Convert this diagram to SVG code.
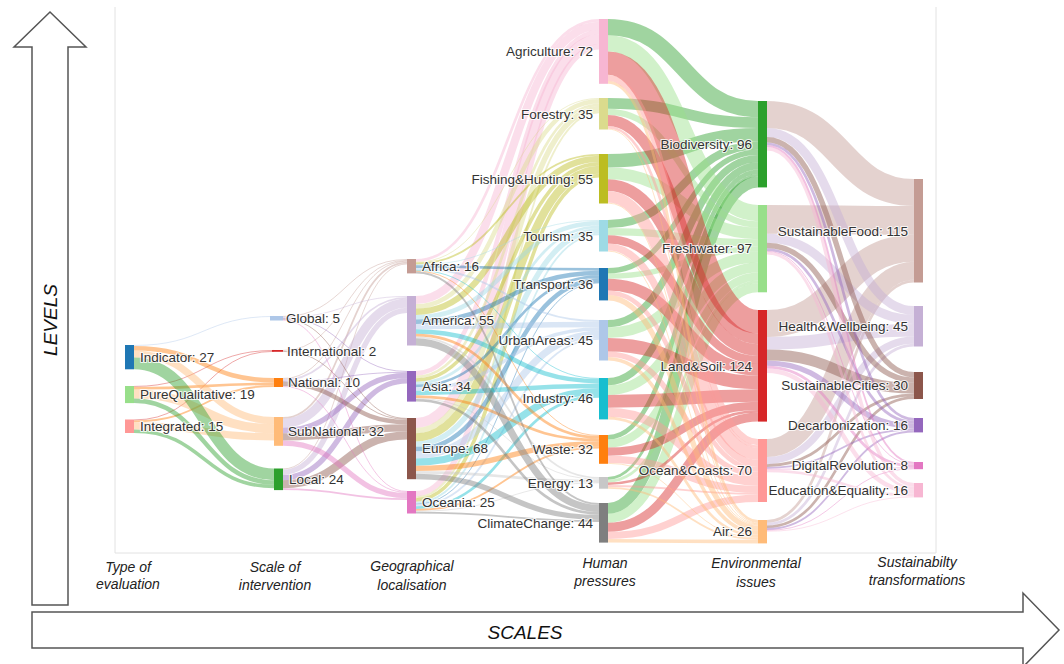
<svg xmlns="http://www.w3.org/2000/svg" width="1064" height="664" viewBox="0 0 1064 664">
<style>
.lk path{fill:none;stroke-opacity:.45}
.cB{stroke:#1f77b4}.cLB{stroke:#aec7e8}.cO{stroke:#ff7f0e}.cLO{stroke:#ffbb78}.cG{stroke:#2ca02c}.cLG{stroke:#98df8a}
.cR{stroke:#d62728}.cP{stroke:#ff9896}.cPu{stroke:#9467bd}.cLPu{stroke:#c5b0d5}.cBr{stroke:#8c564b}.cLBr{stroke:#c49c94}
.cM{stroke:#e377c2}.cLM{stroke:#f7b6d2}.cGr{stroke:#7f7f7f}.cLGr{stroke:#c7c7c7}.cOl{stroke:#bcbd22}.cLOl{stroke:#dbdb8d}
.cCy{stroke:#17becf}.cLCy{stroke:#9edae5}
.lbl{font-family:"Liberation Sans",Arial,sans-serif;font-size:13.5px;fill:#333;stroke:#fff;stroke-width:2.2px;stroke-opacity:.8;paint-order:stroke;stroke-linejoin:round}
.e{text-anchor:end}
.ax{font-family:"Liberation Sans",Arial,sans-serif;font-style:italic;font-size:14px;fill:#222;text-anchor:middle}
.big{font-family:"Liberation Sans",Arial,sans-serif;font-style:italic;font-size:19px;fill:#111;text-anchor:middle}
.arrow{fill:#fff;stroke:#555;stroke-width:1.5}
.frame{stroke:#e2e2e2;stroke-width:1;fill:none}
</style>
<rect width="1064" height="664" fill="#fff"/>
<g id="axes">
<polyline class="frame" points="115,7 115,553 936,553 936,7"/>
<polygon class="arrow" points="32,605 32,47 14,47 50,12 86,47 68,47 68,605"/>
<polygon class="arrow" points="32,612 1023,612 1023,593 1059,630 1023,667 1023,648 32,648"/>
<text class="big" transform="translate(57,320) rotate(-90)">LEVELS</text>
<text class="big" x="525" y="639">SCALES</text>
<text class="ax" x="128" y="572">Type of</text><text class="ax" x="128" y="589">evaluation</text>
<text class="ax" x="275" y="572">Scale of</text><text class="ax" x="275" y="590">intervention</text>
<text class="ax" x="412" y="571">Geographical</text><text class="ax" x="412" y="590">localisation</text>
<text class="ax" x="605" y="568">Human</text><text class="ax" x="605" y="586">pressures</text>
<text class="ax" x="756" y="568">Environmental</text><text class="ax" x="756" y="587">issues</text>
<text class="ax" x="917" y="567">Sustainabilty</text><text class="ax" x="917" y="585">transformations</text>
</g>
<g id="connectors" class="lk">
<!-- col1 -> col2 -->
<g class="cLB"><path d="M134,345.45C204,345.45 204,316.45 274,316.45" stroke-width="0.9"/></g>
<g class="cR">
<path d="M134,386.45C204,386.45 204,350.45 274,350.45" stroke-width="0.9"/>
<path d="M134,419.95C204,419.95 204,351.35 274,351.35" stroke-width="0.9"/>
</g>
<g class="cO">
<path d="M134,348.15C204,348.15 204,380.25 274,380.25" stroke-width="4.5"/>
<path d="M134,388.25C204,388.25 204,383.85 274,383.85" stroke-width="2.7"/>
<path d="M134,421.3C204,421.3 204,386.1 274,386.1" stroke-width="1.8"/>
</g>
<g class="cLO">
<path d="M134,354C204,354 204,420.6 274,420.6" stroke-width="7.2"/>
<path d="M134,394.1C204,394.1 204,428.7 274,428.7" stroke-width="9"/>
<path d="M134,425.8C204,425.8 204,436.8 274,436.8" stroke-width="7.2"/>
</g>
<g class="cG">
<path d="M134,363.45C204,363.45 204,474.35 274,474.35" stroke-width="11.7"/>
<path d="M134,400.85C204,400.85 204,482.45 274,482.45" stroke-width="4.5"/>
<path d="M134,431.2C204,431.2 204,486.5 274,486.5" stroke-width="3.6"/>
</g>
<!-- col2 -> col3 -->
<g class="cLBr">
<path d="M283,316.45C345,316.45 345,259.45 407,259.45" stroke-width="0.9"/>
<path d="M283,350.45C345,350.45 345,260.35 407,260.35" stroke-width="0.9"/>
<path d="M283,378.45C345,378.45 345,261.25 407,261.25" stroke-width="0.9"/>
<path d="M283,417.9C345,417.9 345,262.6 407,262.6" stroke-width="1.8"/>
<path d="M283,468.95C345,468.95 345,263.95 407,263.95" stroke-width="0.9"/>
</g>
<g class="cLPu">
<path d="M283,317.35C345,317.35 345,296.45 407,296.45" stroke-width="0.9"/>
<path d="M283,379.8C345,379.8 345,297.8 407,297.8" stroke-width="1.8"/>
<path d="M283,423.3C345,423.3 345,303.2 407,303.2" stroke-width="9"/>
<path d="M283,472.1C345,472.1 345,310.4 407,310.4" stroke-width="5.4"/>
</g>
<g class="cPu">
<path d="M283,318.25C345,318.25 345,371.45 407,371.45" stroke-width="0.9"/>
<path d="M283,381.15C345,381.15 345,372.35 407,372.35" stroke-width="0.9"/>
<path d="M283,430.5C345,430.5 345,375.5 407,375.5" stroke-width="5.4"/>
<path d="M283,477.5C345,477.5 345,380.9 407,380.9" stroke-width="5.4"/>
</g>
<g class="cBr">
<path d="M283,319.15C345,319.15 345,418.45 407,418.45" stroke-width="0.9"/>
<path d="M283,351.35C345,351.35 345,419.35 407,419.35" stroke-width="0.9"/>
<path d="M283,383.85C345,383.85 345,422.05 407,422.05" stroke-width="4.5"/>
<path d="M283,436.8C345,436.8 345,427.9 407,427.9" stroke-width="7.2"/>
<path d="M283,484.25C345,484.25 345,435.55 407,435.55" stroke-width="8.1"/>
</g>
<g class="cM">
<path d="M283,320.05C345,320.05 345,491.45 407,491.45" stroke-width="0.9"/>
<path d="M283,386.55C345,386.55 345,492.35 407,492.35" stroke-width="0.9"/>
<path d="M283,443.1C345,443.1 345,495.5 407,495.5" stroke-width="5.4"/>
<path d="M283,489.2C345,489.2 345,499.1 407,499.1" stroke-width="1.8"/>
</g>
<!-- col3 -> col4 -->
<g class="cLM">
<path d="M416,260.35C507.5,260.35 507.5,20.35 599,20.35" stroke-width="2.7"/>
<path d="M416,300.05C507.5,300.05 507.5,25.75 599,25.75" stroke-width="8.1"/>
<path d="M416,373.25C507.5,373.25 507.5,32.05 599,32.05" stroke-width="4.5"/>
<path d="M416,422.95C507.5,422.95 507.5,39.25 599,39.25" stroke-width="9.9"/>
<path d="M416,493.7C507.5,493.7 507.5,46.9 599,46.9" stroke-width="5.4"/>
</g>
<g class="cLOl">
<path d="M416,262.15C507.5,262.15 507.5,98.45 599,98.45" stroke-width="0.9"/>
<path d="M416,306.35C507.5,306.35 507.5,101.15 599,101.15" stroke-width="4.5"/>
<path d="M416,376.85C507.5,376.85 507.5,104.75 599,104.75" stroke-width="2.7"/>
<path d="M416,430.6C507.5,430.6 507.5,108.8 599,108.8" stroke-width="5.4"/>
<path d="M416,497.3C507.5,497.3 507.5,112.4 599,112.4" stroke-width="1.8"/>
</g>
<g class="cOl">
<path d="M416,263.5C507.5,263.5 507.5,154.9 599,154.9" stroke-width="1.8"/>
<path d="M416,311.75C507.5,311.75 507.5,158.95 599,158.95" stroke-width="6.3"/>
<path d="M416,380C507.5,380 507.5,163.9 599,163.9" stroke-width="3.6"/>
<path d="M416,437.35C507.5,437.35 507.5,169.75 599,169.75" stroke-width="8.1"/>
<path d="M416,500C507.5,500 507.5,175.6 599,175.6" stroke-width="3.6"/>
</g>
<g class="cLCy">
<path d="M416,264.85C507.5,264.85 507.5,220.45 599,220.45" stroke-width="0.9"/>
<path d="M416,317.15C507.5,317.15 507.5,223.15 599,223.15" stroke-width="4.5"/>
<path d="M416,383.15C507.5,383.15 507.5,226.75 599,226.75" stroke-width="2.7"/>
<path d="M416,444.1C507.5,444.1 507.5,230.8 599,230.8" stroke-width="5.4"/>
<path d="M416,502.7C507.5,502.7 507.5,234.4 599,234.4" stroke-width="1.8"/>
</g>
<g class="cB">
<path d="M416,266.65C507.5,266.65 507.5,269.35 599,269.35" stroke-width="2.7"/>
<path d="M416,321.65C507.5,321.65 507.5,272.95 599,272.95" stroke-width="4.5"/>
<path d="M416,385.85C507.5,385.85 507.5,276.55 599,276.55" stroke-width="2.7"/>
<path d="M416,449.05C507.5,449.05 507.5,280.15 599,280.15" stroke-width="4.5"/>
<path d="M416,504.05C507.5,504.05 507.5,282.85 599,282.85" stroke-width="0.9"/>
</g>
<g class="cLB">
<path d="M416,268.9C507.5,268.9 507.5,320.9 599,320.9" stroke-width="1.8"/>
<path d="M416,326.6C507.5,326.6 507.5,324.5 599,324.5" stroke-width="5.4"/>
<path d="M416,389C507.5,389 507.5,329 599,329" stroke-width="3.6"/>
<path d="M416,454.9C507.5,454.9 507.5,334.4 599,334.4" stroke-width="7.2"/>
<path d="M416,505.4C507.5,505.4 507.5,338.9 599,338.9" stroke-width="1.8"/>
</g>
<g class="cCy">
<path d="M416,270.25C507.5,270.25 507.5,378.45 599,378.45" stroke-width="0.9"/>
<path d="M416,331.55C507.5,331.55 507.5,381.15 599,381.15" stroke-width="4.5"/>
<path d="M416,393.05C507.5,393.05 507.5,385.65 599,385.65" stroke-width="4.5"/>
<path d="M416,462.1C507.5,462.1 507.5,391.5 599,391.5" stroke-width="7.2"/>
<path d="M416,507.65C507.5,507.65 507.5,396.45 599,396.45" stroke-width="2.7"/>
</g>
<g class="cO">
<path d="M416,271.15C507.5,271.15 507.5,435.45 599,435.45" stroke-width="0.9"/>
<path d="M416,335.15C507.5,335.15 507.5,437.25 599,437.25" stroke-width="2.7"/>
<path d="M416,396.65C507.5,396.65 507.5,439.95 599,439.95" stroke-width="2.7"/>
<path d="M416,468.4C507.5,468.4 507.5,444 599,444" stroke-width="5.4"/>
<path d="M416,509.9C507.5,509.9 507.5,447.6 599,447.6" stroke-width="1.8"/>
</g>
<g class="cLGr">
<path d="M416,337.4C507.5,337.4 507.5,477.9 599,477.9" stroke-width="1.8"/>
<path d="M416,398.45C507.5,398.45 507.5,479.25 599,479.25" stroke-width="0.9"/>
<path d="M416,472.45C507.5,472.45 507.5,481.05 599,481.05" stroke-width="2.7"/>
<path d="M416,511.25C507.5,511.25 507.5,482.85 599,482.85" stroke-width="0.9"/>
</g>
<g class="cGr">
<path d="M416,272.5C507.5,272.5 507.5,503.9 599,503.9" stroke-width="1.8"/>
<path d="M416,341.9C507.5,341.9 507.5,508.4 599,508.4" stroke-width="7.2"/>
<path d="M416,400.25C507.5,400.25 507.5,513.35 599,513.35" stroke-width="2.7"/>
<path d="M416,476.5C507.5,476.5 507.5,517.4 599,517.4" stroke-width="5.4"/>
<path d="M416,512.6C507.5,512.6 507.5,521 599,521" stroke-width="1.8"/>
</g>
<!-- col4 -> col5 -->
<g class="cG">
<path d="M608,27.1C683,27.1 683,109.1 758,109.1" stroke-width="16.2"/>
<path d="M608,103.4C683,103.4 683,122.6 758,122.6" stroke-width="10.8"/>
<path d="M608,160.75C683,160.75 683,134.75 758,134.75" stroke-width="13.5"/>
<path d="M608,224.05C683,224.05 683,145.55 758,145.55" stroke-width="8.1"/>
<path d="M608,270.7C683,270.7 683,152.3 758,152.3" stroke-width="5.4"/>
<path d="M608,323.6C683,323.6 683,158.6 758,158.6" stroke-width="7.2"/>
<path d="M608,381.6C683,381.6 683,165.8 758,165.8" stroke-width="7.2"/>
<path d="M608,437.25C683,437.25 683,171.65 758,171.65" stroke-width="4.5"/>
<path d="M608,478.35C683,478.35 683,175.25 758,175.25" stroke-width="2.7"/>
<path d="M608,508.4C683,508.4 683,182 758,182" stroke-width="10.8"/>
</g>
<g class="cLG">
<path d="M608,43.3C683,43.3 683,213.1 758,213.1" stroke-width="16.2"/>
<path d="M608,111.95C683,111.95 683,224.35 758,224.35" stroke-width="6.3"/>
<path d="M608,173.35C683,173.35 683,233.35 758,233.35" stroke-width="11.7"/>
<path d="M608,231.7C683,231.7 683,242.8 758,242.8" stroke-width="7.2"/>
<path d="M608,276.1C683,276.1 683,249.1 758,249.1" stroke-width="5.4"/>
<path d="M608,332.6C683,332.6 683,257.2 758,257.2" stroke-width="10.8"/>
<path d="M608,390.15C683,390.15 683,267.55 758,267.55" stroke-width="9.9"/>
<path d="M608,443.55C683,443.55 683,276.55 758,276.55" stroke-width="8.1"/>
<path d="M608,481.05C683,481.05 683,281.95 758,281.95" stroke-width="2.7"/>
<path d="M608,518.3C683,518.3 683,287.8 758,287.8" stroke-width="9"/>
</g>
<g class="cR">
<path d="M608,63.1C683,63.1 683,321.7 758,321.7" stroke-width="23.4"/>
<path d="M608,120.5C683,120.5 683,338.8 758,338.8" stroke-width="10.8"/>
<path d="M608,185.05C683,185.05 683,350.05 758,350.05" stroke-width="11.7"/>
<path d="M608,239.35C683,239.35 683,359.95 758,359.95" stroke-width="8.1"/>
<path d="M608,284.65C683,284.65 683,369.85 758,369.85" stroke-width="11.7"/>
<path d="M608,344.75C683,344.75 683,382.45 758,382.45" stroke-width="13.5"/>
<path d="M608,401.4C683,401.4 683,395.5 758,395.5" stroke-width="12.6"/>
<path d="M608,451.65C683,451.65 683,405.85 758,405.85" stroke-width="8.1"/>
<path d="M608,483.75C683,483.75 683,411.25 758,411.25" stroke-width="2.7"/>
<path d="M608,527.3C683,527.3 683,417.1 758,417.1" stroke-width="9"/>
</g>
<g class="cP">
<path d="M608,77.95C683,77.95 683,442.15 758,442.15" stroke-width="6.3"/>
<path d="M608,127.25C683,127.25 683,446.65 758,446.65" stroke-width="2.7"/>
<path d="M608,196.75C683,196.75 683,453.85 758,453.85" stroke-width="11.7"/>
<path d="M608,247C683,247 683,463.3 758,463.3" stroke-width="7.2"/>
<path d="M608,292.75C683,292.75 683,469.15 758,469.15" stroke-width="4.5"/>
<path d="M608,354.2C683,354.2 683,474.1 758,474.1" stroke-width="5.4"/>
<path d="M608,412.2C683,412.2 683,481.3 758,481.3" stroke-width="9"/>
<path d="M608,459.3C683,459.3 683,489.4 758,489.4" stroke-width="7.2"/>
<path d="M608,486C683,486 683,493.9 758,493.9" stroke-width="1.8"/>
<path d="M608,535.4C683,535.4 683,498.4 758,498.4" stroke-width="7.2"/>
</g>
<g class="cLO">
<path d="M608,82.45C683,82.45 683,521.35 758,521.35" stroke-width="2.7"/>
<path d="M608,129.05C683,129.05 683,523.15 758,523.15" stroke-width="0.9"/>
<path d="M608,203.05C683,203.05 683,524.05 758,524.05" stroke-width="0.9"/>
<path d="M608,251.05C683,251.05 683,524.95 758,524.95" stroke-width="0.9"/>
<path d="M608,297.7C683,297.7 683,528.1 758,528.1" stroke-width="5.4"/>
<path d="M608,358.7C683,358.7 683,532.6 758,532.6" stroke-width="3.6"/>
<path d="M608,418.05C683,418.05 683,535.75 758,535.75" stroke-width="2.7"/>
<path d="M608,463.35C683,463.35 683,537.55 758,537.55" stroke-width="0.9"/>
<path d="M608,487.8C683,487.8 683,538.9 758,538.9" stroke-width="1.8"/>
<path d="M608,540.8C683,540.8 683,541.6 758,541.6" stroke-width="3.6"/>
</g>
<!-- col5 -> col6 -->
<g class="cLBr">
<path d="M767,114.5C840.5,114.5 840.5,192.5 914,192.5" stroke-width="27"/>
<path d="M767,219.4C840.5,219.4 840.5,220.4 914,220.4" stroke-width="28.8"/>
<path d="M767,323.5C840.5,323.5 840.5,248.3 914,248.3" stroke-width="27"/>
<path d="M767,448C840.5,448 840.5,270.8 914,270.8" stroke-width="18"/>
<path d="M767,521.35C840.5,521.35 840.5,281.15 914,281.15" stroke-width="2.7"/>
</g>
<g class="cLPu">
<path d="M767,132.5C840.5,132.5 840.5,310.5 914,310.5" stroke-width="9"/>
<path d="M767,238.3C840.5,238.3 840.5,319.5 914,319.5" stroke-width="9"/>
<path d="M767,343.3C840.5,343.3 840.5,330.3 914,330.3" stroke-width="12.6"/>
<path d="M767,460.6C840.5,460.6 840.5,340.2 914,340.2" stroke-width="7.2"/>
<path d="M767,524.05C840.5,524.05 840.5,345.15 914,345.15" stroke-width="2.7"/>
</g>
<g class="cBr">
<path d="M767,139.7C840.5,139.7 840.5,374.7 914,374.7" stroke-width="5.4"/>
<path d="M767,245.5C840.5,245.5 840.5,380.1 914,380.1" stroke-width="5.4"/>
<path d="M767,355C840.5,355 840.5,388.2 914,388.2" stroke-width="10.8"/>
<path d="M767,465.55C840.5,465.55 840.5,394.95 914,394.95" stroke-width="2.7"/>
<path d="M767,526.75C840.5,526.75 840.5,397.65 914,397.65" stroke-width="2.7"/>
</g>
<g class="cPu">
<path d="M767,143.75C840.5,143.75 840.5,419.35 914,419.35" stroke-width="2.7"/>
<path d="M767,249.55C840.5,249.55 840.5,422.05 914,422.05" stroke-width="2.7"/>
<path d="M767,363.1C840.5,363.1 840.5,426.1 914,426.1" stroke-width="5.4"/>
<path d="M767,467.8C840.5,467.8 840.5,429.7 914,429.7" stroke-width="1.8"/>
<path d="M767,529C840.5,529 840.5,431.5 914,431.5" stroke-width="1.8"/>
</g>
<g class="cM">
<path d="M767,146C840.5,146 840.5,462.9 914,462.9" stroke-width="1.8"/>
<path d="M767,251.35C840.5,251.35 840.5,464.25 914,464.25" stroke-width="0.9"/>
<path d="M767,367.15C840.5,367.15 840.5,466.05 914,466.05" stroke-width="2.7"/>
<path d="M767,469.15C840.5,469.15 840.5,467.85 914,467.85" stroke-width="0.9"/>
<path d="M767,530.35C840.5,530.35 840.5,468.75 914,468.75" stroke-width="0.9"/>
</g>
<g class="cLM">
<path d="M767,148.7C840.5,148.7 840.5,484.8 914,484.8" stroke-width="3.6"/>
<path d="M767,253.15C840.5,253.15 840.5,487.95 914,487.95" stroke-width="2.7"/>
<path d="M767,370.75C840.5,370.75 840.5,491.55 914,491.55" stroke-width="4.5"/>
<path d="M767,470.95C840.5,470.95 840.5,495.15 914,495.15" stroke-width="2.7"/>
<path d="M767,531.25C840.5,531.25 840.5,496.95 914,496.95" stroke-width="0.9"/>
</g>
</g>
<!-- nodes: column 1 -->
<g id="n-indicator"><rect x="125" y="345" width="9" height="24.3" fill="#1f77b4"/><text class="lbl" x="140" y="361.9">Indicator: 27</text></g>
<g id="n-purequalitative"><rect x="125" y="386" width="9" height="17.1" fill="#98df8a"/><text class="lbl" x="140" y="399.3">PureQualitative: 19</text></g>
<g id="n-integrated"><rect x="125" y="419.5" width="9" height="13.5" fill="#ff9896"/><text class="lbl" x="140" y="431">Integrated: 15</text></g>
<!-- column 2 -->
<g id="n-global"><rect x="270" y="316" width="13" height="4.5" fill="#aec7e8"/><text class="lbl" x="286" y="323">Global: 5</text></g>
<g id="n-international"><rect x="272" y="350" width="11" height="1.8" fill="#d62728"/><text class="lbl" x="287" y="355.6">International: 2</text></g>
<g id="n-national"><rect x="274" y="378" width="9" height="9" fill="#ff7f0e"/><text class="lbl" x="288" y="387.2">National: 10</text></g>
<g id="n-subnational"><rect x="274" y="417" width="9" height="28.8" fill="#ffbb78"/><text class="lbl" x="288" y="436.1">SubNational: 32</text></g>
<g id="n-local"><rect x="274" y="468.5" width="9" height="21.6" fill="#2ca02c"/><text class="lbl" x="289" y="484">Local: 24</text></g>
<!-- column 3 -->
<g id="n-africa"><rect x="407" y="259" width="9" height="14.4" fill="#c49c94"/><text class="lbl" x="422" y="270.9">Africa: 16</text></g>
<g id="n-america"><rect x="407" y="296" width="9" height="49.5" fill="#c5b0d5"/><text class="lbl" x="422" y="325.4">America: 55</text></g>
<g id="n-asia"><rect x="407" y="371" width="9" height="30.6" fill="#9467bd"/><text class="lbl" x="422" y="391">Asia: 34</text></g>
<g id="n-europe"><rect x="407" y="418" width="9" height="61.2" fill="#8c564b"/><text class="lbl" x="422" y="453.3">Europe: 68</text></g>
<g id="n-oceania"><rect x="407" y="491" width="9" height="22.5" fill="#e377c2"/><text class="lbl" x="422" y="507">Oceania: 25</text></g>
<!-- column 4 -->
<g id="n-agriculture"><rect x="599" y="19" width="9" height="64.8" fill="#f7b6d2"/><text class="lbl e" x="593" y="56.1">Agriculture: 72</text></g>
<g id="n-forestry"><rect x="599" y="98" width="9" height="31.5" fill="#dbdb8d"/><text class="lbl e" x="593" y="118.5">Forestry: 35</text></g>
<g id="n-fishing"><rect x="599" y="154" width="9" height="49.5" fill="#bcbd22"/><text class="lbl e" x="593" y="183.5">Fishing&amp;Hunting: 55</text></g>
<g id="n-tourism"><rect x="599" y="220" width="9" height="31.5" fill="#9edae5"/><text class="lbl e" x="593" y="240.5">Tourism: 35</text></g>
<g id="n-transport"><rect x="599" y="268" width="9" height="32.4" fill="#1f77b4"/><text class="lbl e" x="593" y="288.9">Transport: 36</text></g>
<g id="n-urbanareas"><rect x="599" y="320" width="9" height="40.5" fill="#aec7e8"/><text class="lbl e" x="593" y="345">UrbanAreas: 45</text></g>
<g id="n-industry"><rect x="599" y="378" width="9" height="41.4" fill="#17becf"/><text class="lbl e" x="593" y="403.4">Industry: 46</text></g>
<g id="n-waste"><rect x="599" y="435" width="9" height="28.8" fill="#ff7f0e"/><text class="lbl e" x="593" y="454.1">Waste: 32</text></g>
<g id="n-energy"><rect x="599" y="477" width="9" height="11.7" fill="#c7c7c7"/><text class="lbl e" x="593" y="487.6">Energy: 13</text></g>
<g id="n-climatechange"><rect x="599" y="503" width="9" height="39.6" fill="#7f7f7f"/><text class="lbl e" x="593" y="527.5">ClimateChange: 44</text></g>
<!-- column 5 -->
<g id="n-biodiversity"><rect x="758" y="101" width="9" height="86.4" fill="#2ca02c"/><text class="lbl e" x="752" y="148.9">Biodiversity: 96</text></g>
<g id="n-freshwater"><rect x="758" y="205" width="9" height="87.3" fill="#98df8a"/><text class="lbl e" x="752" y="253.4">Freshwater: 97</text></g>
<g id="n-landsoil"><rect x="758" y="310" width="9" height="111.6" fill="#d62728"/><text class="lbl e" x="752" y="370.5">Land&amp;Soil: 124</text></g>
<g id="n-oceancoasts"><rect x="758" y="439" width="9" height="63" fill="#ff9896"/><text class="lbl e" x="752" y="475.2">Ocean&amp;Coasts: 70</text></g>
<g id="n-air"><rect x="758" y="520" width="9" height="23.4" fill="#ffbb78"/><text class="lbl e" x="752" y="536.4">Air: 26</text></g>
<!-- column 6 -->
<g id="n-sustainablefood"><rect x="914" y="179" width="9" height="103.5" fill="#c49c94"/><text class="lbl e" x="908" y="235.5">SustainableFood: 115</text></g>
<g id="n-healthwellbeing"><rect x="914" y="306" width="9" height="40.5" fill="#c5b0d5"/><text class="lbl e" x="908" y="331">Health&amp;Wellbeing: 45</text></g>
<g id="n-sustainablecities"><rect x="914" y="372" width="9" height="27" fill="#8c564b"/><text class="lbl e" x="908" y="390.2">SustainableCities: 30</text></g>
<g id="n-decarbonization"><rect x="914" y="418" width="9" height="14.4" fill="#9467bd"/><text class="lbl e" x="908" y="429.9">Decarbonization: 16</text></g>
<g id="n-digitalrevolution"><rect x="914" y="462" width="9" height="7.2" fill="#e377c2"/><text class="lbl e" x="908" y="470.3">DigitalRevolution: 8</text></g>
<g id="n-educationequality"><rect x="914" y="483" width="9" height="14.4" fill="#f7b6d2"/><text class="lbl e" x="908" y="494.9">Education&amp;Equality: 16</text></g>
</svg>
